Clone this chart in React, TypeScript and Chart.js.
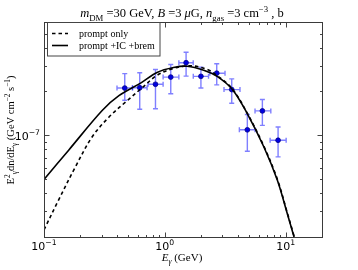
import React, { useEffect, useRef } from "react";
import { Chart, registerables } from "chart.js";

Chart.register(...registerables);

// Measured data points (GeV, GeV cm^-2 s^-1)
const dataE = [0.466, 0.62, 0.837, 1.12, 1.5, 1.99, 2.69, 3.58, 4.82, 6.42, 8.66];
const dataFlux = [2.11e-7, 2.12e-7, 2.24e-7, 2.51e-7, 3.15e-7, 2.54e-7, 2.67e-7, 2.06e-7, 1.09e-7, 1.47e-7, 9.24e-8];
const dataFluxLo = [1.74e-7, 1.51e-7, 1.52e-7, 1.93e-7, 2.55e-7, 2.11e-7, 2.22e-7, 1.66e-7, 7.77e-8, 1.17e-7, 7.1e-8];
const dataFluxHi = [2.65e-7, 2.69e-7, 2.83e-7, 3.06e-7, 3.72e-7, 2.94e-7, 3.1e-7, 2.44e-7, 1.39e-7, 1.76e-7, 1.14e-7];
const dataELo = [0.402, 0.54, 0.727, 0.968, 1.307, 1.72, 2.36, 3.09, 4.14, 5.58, 7.44];
const dataEHi = [0.54, 0.713, 0.968, 1.307, 1.718, 2.3, 3.15, 4.19, 5.58, 7.54, 10.1];

// prompt + IC + brem (solid)
const totalE = [0.1, 0.16, 0.303, 0.417, 0.64, 0.862, 1.18, 1.53, 2.1, 2.71, 3.61, 4.81, 6.61, 8.53, 10.3, 11.6, 12.2];
const totalFlux = [4.97e-8, 7.9e-8, 1.48e-7, 1.87e-7, 2.3e-7, 2.7e-7, 2.92e-7, 2.98e-7, 2.8e-7, 2.54e-7, 2.07e-7, 1.41e-7, 8.3e-8, 4.92e-8, 2.91e-8, 2.07e-8, 1.8e-8];

// prompt only (dashed)
const promptE = [0.1, 0.132, 0.182, 0.25, 0.344, 0.473, 0.65, 0.862, 1.18, 1.63, 2.24, 2.71, 3.61, 4.81, 6.61, 8.53, 10.3, 11.6, 12.2];
const promptFlux = [2.24e-8, 3.59e-8, 6.07e-8, 9.73e-8, 1.33e-7, 1.69e-7, 2.12e-7, 2.58e-7, 2.88e-7, 3.0e-7, 2.84e-7, 2.57e-7, 2.09e-7, 1.42e-7, 8.4e-8, 5.0e-8, 2.95e-8, 2.1e-8, 1.82e-8];

const xMin = 0.1;
const xMax = 20;
const yMin = 2e-8;
const yMax = 6e-7;

const xMajorTicks = [0.1, 1, 10];
const xTickExps = ["-1", "0", "1"];
const xMinorTicks = [0.2, 0.3, 0.4, 0.5, 0.6, 0.7, 0.8, 0.9, 2, 3, 4, 5, 6, 7, 8, 9];
const yMajorTicks = [1e-7];
const yTickExps = ["-7"];
const yMinorTicks = [3e-8, 4e-8, 5e-8, 6e-8, 7e-8, 8e-8, 9e-8, 2e-7, 3e-7, 4e-7, 5e-7];

const legendLabels = ["prompt only", "prompt +IC +brem"];

type Seg = { t: string; k?: "sub" | "sup"; it?: boolean; f?: string };

const SERIF = "'Liberation Serif', 'DejaVu Serif', serif";
const SANS = "'DejaVu Sans', sans-serif";

function drawRich(
  ctx: CanvasRenderingContext2D,
  segs: Seg[],
  x: number,
  y: number,
  size: number,
  family: string,
  align: "left" | "center" | "right"
) {
  const fontOf = (s: Seg) =>
    `${s.it ? "italic " : ""}${s.k ? size * 0.7 : size}px ${s.f || family}`;
  const widths = segs.map((s) => {
    ctx.font = fontOf(s);
    return ctx.measureText(s.t).width;
  });
  const total = widths.reduce((a, b) => a + b, 0);
  let cx = align === "center" ? x - total / 2 : align === "right" ? x - total : x;
  ctx.textAlign = "left";
  ctx.textBaseline = "alphabetic";
  segs.forEach((s, i) => {
    ctx.font = fontOf(s);
    const dy = s.k === "sub" ? size * 0.28 : s.k === "sup" ? -size * 0.42 : 0;
    ctx.fillText(s.t, cx, y + dy);
    cx += widths[i];
  });
}

const decorPlugin = {
  id: "decor",
  beforeDatasetDraw(chart: any, args: any) {
    if (args.index !== 2) return;
    const ctx: CanvasRenderingContext2D = chart.ctx;
    const xs = chart.scales.x;
    const ys = chart.scales.y;
    ctx.save();
    ctx.strokeStyle = "rgba(0,0,255,0.5)";
    ctx.lineWidth = 1.4;
    const cap = 2.5;
    for (let i = 0; i < dataE.length; i++) {
      const px = xs.getPixelForValue(dataE[i]);
      const py = ys.getPixelForValue(dataFlux[i]);
      const yl = ys.getPixelForValue(dataFluxLo[i]);
      const yh = ys.getPixelForValue(dataFluxHi[i]);
      const xl = xs.getPixelForValue(dataELo[i]);
      const xh = xs.getPixelForValue(dataEHi[i]);
      ctx.beginPath();
      ctx.moveTo(px, yl);
      ctx.lineTo(px, yh);
      ctx.moveTo(xl, py);
      ctx.lineTo(xh, py);
      ctx.moveTo(px - cap, yl);
      ctx.lineTo(px + cap, yl);
      ctx.moveTo(px - cap, yh);
      ctx.lineTo(px + cap, yh);
      ctx.moveTo(xl, py - cap);
      ctx.lineTo(xl, py + cap);
      ctx.moveTo(xh, py - cap);
      ctx.lineTo(xh, py + cap);
      ctx.stroke();
    }
    ctx.restore();
  },
  afterDraw(chart: any) {
    const ctx: CanvasRenderingContext2D = chart.ctx;
    const xs = chart.scales.x;
    const ys = chart.scales.y;
    const a = chart.chartArea;
    const L = Math.round(a.left) + 0.5;
    const R = Math.round(a.right) + 0.5;
    const T = Math.round(a.top) + 0.5;
    const B = Math.round(a.bottom) + 0.5;
    ctx.save();
    ctx.strokeStyle = "#444";
    ctx.lineWidth = 1;
    ctx.beginPath();
    const tickX = (v: number, len: number) => {
      const p = Math.round(xs.getPixelForValue(v)) + 0.5;
      ctx.moveTo(p, B);
      ctx.lineTo(p, B - len);
      ctx.moveTo(p, T);
      ctx.lineTo(p, T + len);
    };
    const tickY = (v: number, len: number) => {
      const p = Math.round(ys.getPixelForValue(v)) + 0.5;
      ctx.moveTo(L, p);
      ctx.lineTo(L + len, p);
      ctx.moveTo(R, p);
      ctx.lineTo(R - len, p);
    };
    xMajorTicks.forEach((v) => tickX(v, 5));
    xMinorTicks.forEach((v) => tickX(v, 2.5));
    yMajorTicks.forEach((v) => tickY(v, 5));
    yMinorTicks.forEach((v) => tickY(v, 2.5));
    ctx.stroke();
    ctx.strokeStyle = "#3a3a3a";
    ctx.strokeRect(L, T, R - L, B - T);

    ctx.fillStyle = "#000";
    xMajorTicks.forEach((v, i) => {
      const p = xs.getPixelForValue(v);
      drawRich(ctx, [{ t: "10" }, { t: xTickExps[i].replace("-", "\u2212"), k: "sup" }], p, 250, 11, SANS, "center");
    });
    yMajorTicks.forEach((v, i) => {
      const p = ys.getPixelForValue(v);
      drawRich(ctx, [{ t: "10" }, { t: yTickExps[i].replace("-", "\u2212"), k: "sup" }], 40, p + 4.5, 11, SANS, "right");
    });

    drawRich(
      ctx,
      [
        { t: "m", it: true },
        { t: "DM", k: "sub" },
        { t: " =30 GeV, " },
        { t: "B", it: true },
        { t: " =3 " },
        { t: "\u03bc", it: true },
        { t: "G, " },
        { t: "n", it: true },
        { t: "gas", k: "sub" },
        { t: " =3 cm" },
        { t: "\u22123", k: "sup" },
        { t: " , b" },
      ],
      182,
      17,
      12.5,
      SERIF,
      "center"
    );

    drawRich(ctx, [{ t: "E", it: true }, { t: "\u03b3", k: "sub", it: true }, { t: " (GeV)" }], 182, 261, 11, SERIF, "center");

    ctx.save();
    ctx.translate(14, 130);
    ctx.rotate(-Math.PI / 2);
    drawRich(
      ctx,
      [
        { t: "E" },
        { t: "2", k: "sup" },
        { t: "\u03b3", k: "sub" },
        { t: "dn/dE" },
        { t: "\u03b3", k: "sub" },
        { t: " (GeV cm" },
        { t: "\u22122", k: "sup" },
        { t: " s" },
        { t: "\u22121", k: "sup" },
        { t: ")" },
      ],
      0,
      0,
      10.5,
      SERIF,
      "center"
    );
    ctx.restore();

    ctx.fillStyle = "#fff";
    ctx.fillRect(47.5, 22.5, 112.5, 33.5);
    ctx.strokeStyle = "#444";
    ctx.lineWidth = 1;
    ctx.strokeRect(47.5, 22.5, 112.5, 33.5);
    ctx.strokeStyle = "#000";
    ctx.lineWidth = 1.6;
    ctx.setLineDash([3.5, 3]);
    ctx.beginPath();
    ctx.moveTo(52, 33.5);
    ctx.lineTo(68, 33.5);
    ctx.stroke();
    ctx.setLineDash([]);
    ctx.beginPath();
    ctx.moveTo(52, 45.5);
    ctx.lineTo(68, 45.5);
    ctx.stroke();
    ctx.fillStyle = "#000";
    drawRich(ctx, [{ t: legendLabels[0] }], 79, 37, 10, SERIF, "left");
    drawRich(ctx, [{ t: legendLabels[1] }], 79, 49, 10, SERIF, "left");
    ctx.restore();
  },
};

export default function App() {
  const ref = useRef<HTMLCanvasElement | null>(null);
  useEffect(() => {
    if (!ref.current) return;
    const chart = new Chart(ref.current, {
      type: "line",
      data: {
        datasets: [
          {
            label: "prompt +IC +brem",
            data: totalE.map((e, i) => ({ x: e, y: totalFlux[i] })),
            borderColor: "#000",
            borderWidth: 1.6,
            pointRadius: 0,
            tension: 0.35,
            fill: false,
          },
          {
            label: "prompt only",
            data: promptE.map((e, i) => ({ x: e, y: promptFlux[i] })),
            borderColor: "#000",
            borderWidth: 1.6,
            borderDash: [3.5, 3],
            pointRadius: 0,
            tension: 0.35,
            fill: false,
          },
          {
            label: "data",
            data: dataE.map((e, i) => ({ x: e, y: dataFlux[i] })),
            showLine: false,
            pointRadius: 2.4,
            pointStyle: "circle",
            backgroundColor: "#0000e0",
            borderColor: "#000088",
            borderWidth: 0.8,
          },
        ],
      } as any,
      options: {
        animation: false,
        responsive: false,
        events: [],
        layout: { padding: { left: 44, right: 36, top: 22, bottom: 33 } },
        scales: {
          x: { type: "logarithmic", min: xMin, max: xMax, display: false },
          y: { type: "logarithmic", min: yMin, max: yMax, display: false },
        },
        plugins: { legend: { display: false }, tooltip: { enabled: false }, title: { display: false } },
      } as any,
      plugins: [decorPlugin],
    });
    return () => chart.destroy();
  }, []);
  return (
    <div style={{ position: "fixed", left: 0, top: 0, width: 358, height: 270, background: "#fff" }}>
      <canvas ref={ref} width={358} height={270} />
    </div>
  );
}
